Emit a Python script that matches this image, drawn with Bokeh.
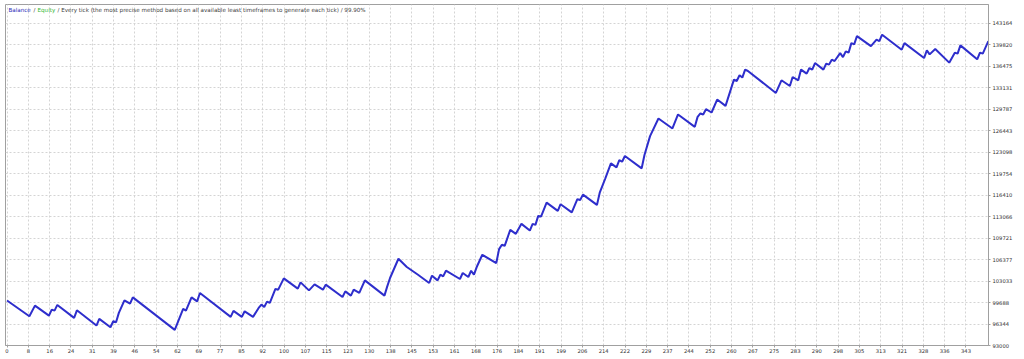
from bokeh.plotting import figure
from bokeh.models import Range1d, FixedTicker, LinearAxis, Label
from bokeh.embed import file_html
from bokeh.resources import INLINE

# Balance curve vertices (trade number, balance)
trades = [0, 8, 10, 15, 16, 17, 18, 24, 25, 32, 33, 37, 38, 39, 40, 42, 44, 45, 60,
          63, 64, 66, 68, 69, 80, 81, 84, 85, 88, 90, 91, 92, 93, 94, 96, 97, 99,
          104, 105, 108, 110, 113, 114, 120, 121, 123, 124, 126, 128, 135, 136, 137,
          140, 143, 147, 151, 152, 154, 155, 156, 157, 162, 163, 165, 166, 167, 168,
          170, 175, 176, 177, 178, 180, 182, 184, 187, 188, 189, 190, 191, 193, 197,
          198, 202, 204, 205, 206, 211, 212, 214, 216, 218, 219, 220, 221, 227, 228,
          230, 233, 238, 240, 246, 247, 248, 249, 250, 252, 254, 257, 260, 261, 262,
          263, 264, 265, 275, 277, 280, 281, 283, 284, 286, 287, 288, 289, 292, 293,
          294, 295, 296, 298, 299, 300, 301, 302, 303, 304, 309, 311, 312, 313, 320,
          321, 328, 329, 330, 332, 337, 339, 340, 341, 347, 348, 349, 351]
balance = [100000, 97547, 99208, 97656, 98587, 98432, 99317, 97299, 98479, 96104,
           97144, 95840, 96771, 96616, 98075, 100031, 99518, 100496, 95437,
           98696, 98432, 100496, 99875, 101179, 97454, 98385, 97454, 98323, 97454,
           98851, 99363, 99006, 99829, 99627, 101800, 101691, 103445,
           101846, 102824, 101583, 102514, 101691, 102467, 100558, 101427, 100760,
           101691, 101179, 103135, 100760, 102203, 103507,
           106502, 105214, 104019, 102731, 103864, 103135, 104019, 103755, 104640,
           103352, 104283, 103662, 104640, 104019, 105214,
           107123, 105835, 108008, 108675, 108520, 111003, 110382, 111934, 110895,
           111934, 111779, 113176, 113067, 115240, 113952,
           114992, 113719, 115768, 115659, 116482, 114883, 116792, 119027, 121355,
           120734, 121867, 121603, 122488, 120579, 122643,
           125592, 128339, 126787, 128960, 127035, 128587, 129115, 128960, 129782,
           129270, 131288, 130295, 134392, 134175, 135059,
           134702, 135944, 135727, 132312, 134283, 133399, 134795, 134283, 135944,
           135323, 136192, 135944, 136968, 135944, 136875,
           136720, 137496, 137279, 138520, 137899, 138784, 138582, 140072, 139870,
           141159, 139607, 140600, 140383, 141376, 139048,
           140072, 137744, 138939, 138318, 139141, 137030, 138582, 138427, 139715,
           137542, 138582, 138427, 140383]

y_labels = ["93000", "96344", "99688", "103033", "106377", "109721", "113066", "116410",
            "119754", "123098", "126443", "129787", "133131", "136475", "139820", "143164"]
x_labels = ["0", "8", "16", "24", "31", "39", "46", "54", "62", "69", "77", "85", "92",
            "100", "107", "115", "123", "130", "138", "145", "153", "161", "168", "176",
            "184", "191", "199", "206", "214", "222", "229", "237", "244", "252", "260",
            "267", "275", "283", "290", "298", "305", "313", "321", "328", "336", "343"]

title_parts = [("Balance", "#2b2bb8"), ("/", "#404040"), ("Equity", "#33b833"),
               ("/ Every tick (the most precise method based on all available least "
                "timeframes to generate each tick) / 99.90%", "#404040")]

x_lo, x_hi = -0.54, 351.05
y_lo, y_hi = 93000, 146080

p = figure(width=1024, height=359, output_backend="svg", toolbar_location=None,
           x_range=Range1d(x_lo, x_hi), y_range=Range1d(y_lo, y_hi),
           x_axis_location="below", y_axis_location=None,
           min_border_left=5, min_border_right=36, min_border_top=4, min_border_bottom=14)
p.background_fill_color = "white"
p.border_fill_color = "white"
p.outline_line_color = "#a0a0a0"
p.outline_line_width = 1

n_x = len(x_labels) - 1
last_x = float(x_labels[-1])
x_ticks = [k * last_x / n_x for k in range(len(x_labels))]
y_ticks = [int(s) for s in y_labels]

xa = p.xaxis[0]
xa.ticker = FixedTicker(ticks=x_ticks)
xa.major_label_overrides = {t: s for t, s in zip(x_ticks, x_labels)}
xa.minor_tick_line_color = None
xa.major_tick_out = 2
xa.major_tick_in = 0
xa.major_label_standoff = 1
xa.axis_line_color = "#a0a0a0"
xa.major_tick_line_color = "#a0a0a0"
xa.major_label_text_font = "DejaVu Sans"
xa.major_label_text_font_size = "5.2px"
xa.major_label_text_color = "#303030"

ya = LinearAxis(ticker=FixedTicker(ticks=y_ticks))
ya.major_label_overrides = {t: s for t, s in zip(y_ticks, y_labels)}
ya.minor_tick_line_color = None
ya.major_tick_out = 2
ya.major_tick_in = 0
ya.major_label_standoff = 2
ya.axis_line_color = "#a0a0a0"
ya.major_tick_line_color = "#a0a0a0"
ya.major_label_text_font = "DejaVu Sans"
ya.major_label_text_font_size = "5.2px"
ya.major_label_text_color = "#303030"
p.add_layout(ya, "right")

p.xgrid.ticker = FixedTicker(ticks=x_ticks)
p.ygrid.ticker = FixedTicker(ticks=y_ticks)
for g in (p.xgrid[0], p.ygrid[0]):
    g.grid_line_color = "#d4d4d4"
    g.grid_line_dash = "2 2"
    g.grid_line_width = 1

p.line(trades, balance, line_color="#2e2ecc", line_width=2)

# title labels positioned in pixels from frame top-left
px_per_x = 983.0 / (x_hi - x_lo)
px_per_y = 341.0 / (y_hi - y_lo)
def sx(px):
    return x_lo + (px - 5) / px_per_x
ty = y_hi - (9.5 - 4) / px_per_y
starts = [8, 33, 37, 57]
for (txt, col), sx0 in zip(title_parts, starts):
    p.add_layout(Label(x=sx(sx0), y=ty, text=txt, text_color=col,
                       text_font="DejaVu Sans", text_font_size="5.6px",
                       text_baseline="middle", text_align="left"))

open("out.html", "w").write(file_html(p, INLINE))
